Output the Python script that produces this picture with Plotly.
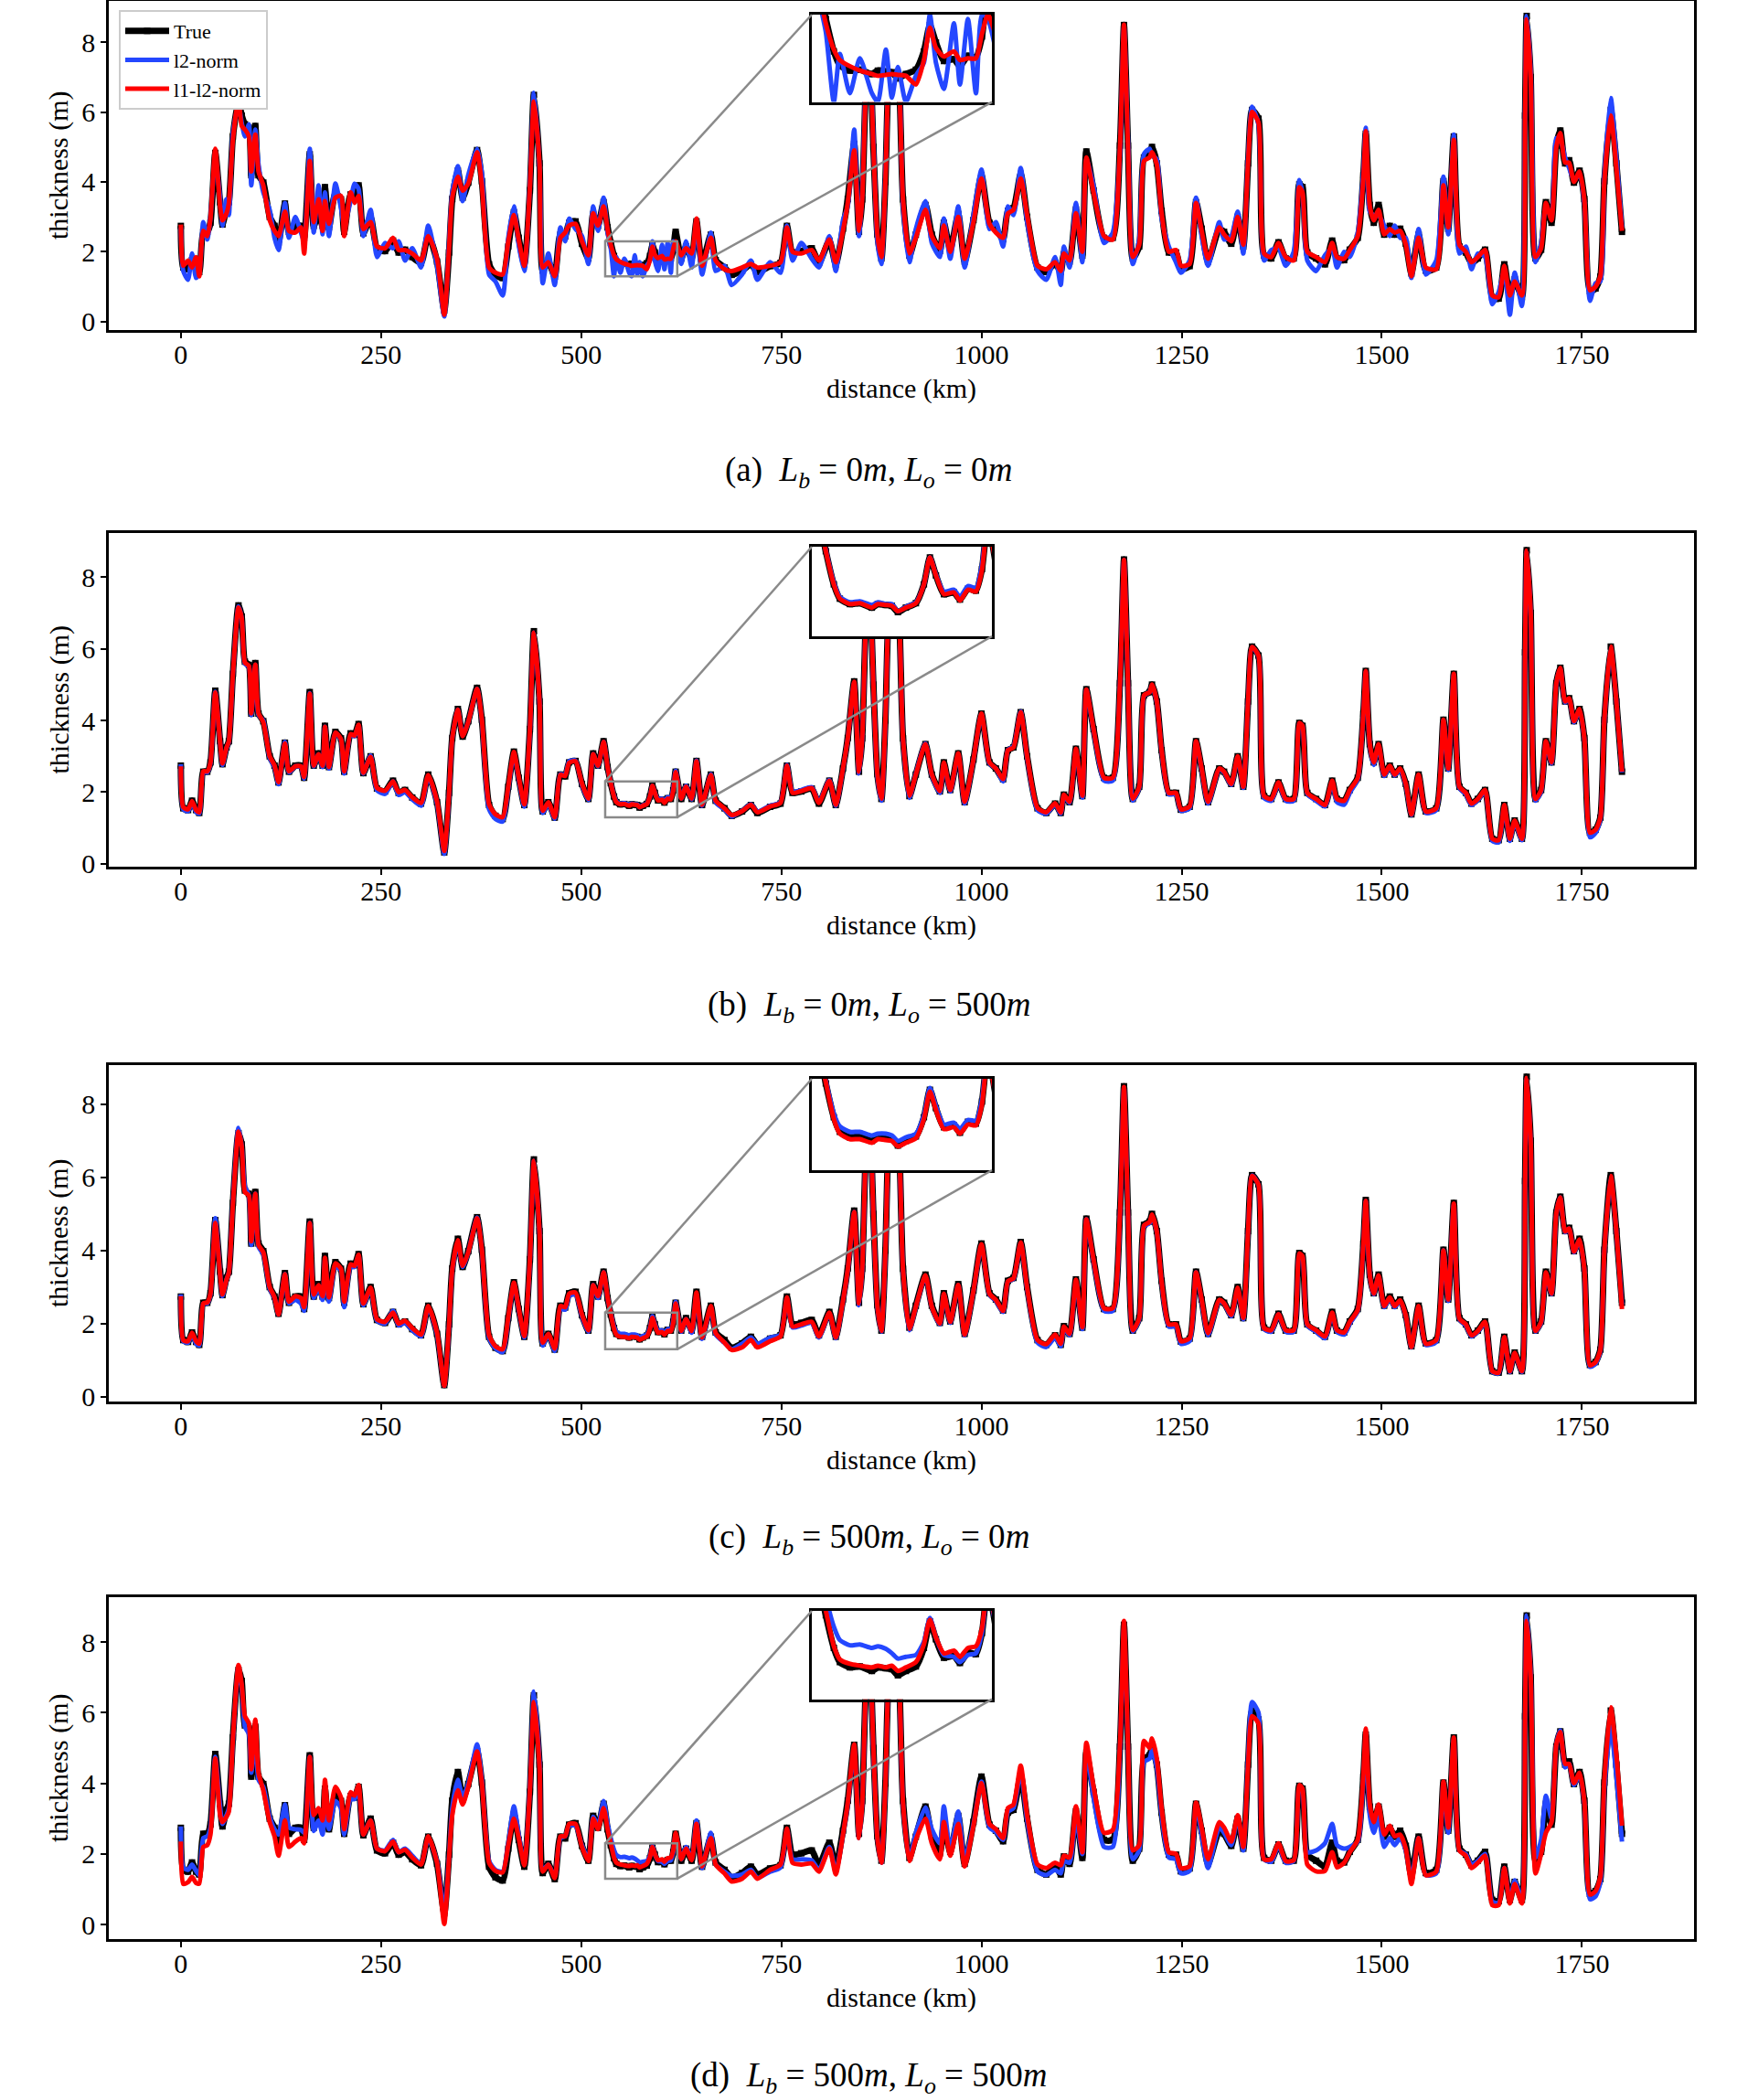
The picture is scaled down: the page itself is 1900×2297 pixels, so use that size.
import plotly.graph_objects as go

W, H = 1900, 2297

# distance along the track (km), shared by every series
dist_km = [
    0, 3, 9, 14, 19, 23, 28, 33, 37, 43,
    49, 52, 57, 60, 65, 72, 76, 80, 85, 88,
    93, 97, 103, 111, 117, 122, 130, 135, 143, 150,
    154, 161, 166, 172, 177, 180, 185, 193, 200, 204,
    212, 217, 222, 228, 237, 245, 255, 265, 272, 280,
    289, 300, 309, 320, 329, 335, 339, 346, 352, 359,
    370, 376, 385, 393, 402, 409, 416, 422, 429, 436,
    441, 448, 452, 459, 467, 474, 480, 485, 493, 501,
    509, 515, 521, 528, 533, 537, 541, 544, 549, 554,
    560, 563, 567, 570, 573, 577, 582, 586, 589, 592,
    596, 601, 604, 608, 612, 615, 618, 625, 631, 638,
    644, 651, 662, 668, 679, 688, 701, 712, 720, 736,
    749, 757, 764, 775, 788, 797, 810, 818, 827, 833,
    841, 847, 851, 856, 860, 865, 870, 875, 880, 884,
    891, 897, 902, 910, 918, 930, 938, 948, 953, 961,
    971, 979, 990, 1000, 1010, 1018, 1027, 1033, 1040, 1049,
    1057, 1070, 1081, 1092, 1099, 1103, 1110, 1118, 1126, 1131,
    1140, 1153, 1164, 1173, 1178, 1183, 1189, 1197, 1203, 1210,
    1213, 1219, 1225, 1234, 1243, 1249, 1260, 1268, 1275, 1283,
    1297, 1303, 1312, 1320, 1327, 1333, 1338, 1346, 1353, 1362,
    1371, 1380, 1390, 1397, 1401, 1407, 1418, 1429, 1438, 1444,
    1453, 1460, 1470, 1477, 1480, 1485, 1490, 1496, 1503, 1510,
    1516, 1523, 1530, 1537, 1546, 1555, 1568, 1577, 1583, 1590,
    1597, 1605, 1612, 1620, 1629, 1638, 1646, 1653, 1660, 1666,
    1675, 1679, 1681, 1686, 1692, 1699, 1705, 1712, 1718, 1723,
    1729, 1734, 1740, 1747, 1753, 1760, 1767, 1773, 1778, 1786,
    1793, 1800,
]

# true thickness (m), panels b, c, d
true_thk = [
    2.74, 1.55, 1.50, 1.76, 1.50, 1.42, 2.57, 2.57, 2.83, 4.83,
    3.42, 2.78, 3.25, 3.42, 5.30, 7.21, 6.90, 5.64, 5.55, 4.19,
    5.60, 4.19, 3.98, 3.00, 2.74, 2.27, 3.38, 2.57, 2.74, 2.74,
    2.40, 4.79, 2.74, 3.08, 2.74, 3.85, 2.70, 3.68, 3.50, 2.57,
    3.64, 3.60, 3.90, 2.53, 3.00, 2.10, 2.02, 2.32, 1.98, 2.06,
    1.85, 1.68, 2.49, 1.72, 0.32, 1.98, 3.51, 4.32, 3.55, 3.98,
    4.91, 4.02, 1.64, 1.34, 1.25, 2.15, 3.13, 2.40, 1.64, 3.76,
    6.49, 4.53, 1.46, 1.72, 1.29, 2.49, 2.44, 2.83, 2.87, 2.23,
    1.81, 3.08, 2.74, 3.42, 2.70, 2.25, 1.88, 1.72, 1.66, 1.67,
    1.62, 1.66, 1.65, 1.64, 1.57, 1.62, 1.67, 1.88, 2.18, 1.98,
    1.77, 1.79, 1.71, 1.83, 1.81, 2.05, 2.57, 1.81, 2.15, 1.81,
    2.87, 1.64, 2.49, 1.76, 1.55, 1.34, 1.46, 1.64, 1.42, 1.59,
    1.68, 2.74, 1.98, 2.02, 2.10, 1.68, 2.32, 1.64, 2.66, 3.51,
    5.09, 2.57, 3.50, 7.00, 7.90, 5.00, 2.50, 1.81, 4.00, 7.00,
    8.30, 7.00, 3.50, 1.89, 2.49, 3.34, 2.49, 2.02, 2.83, 2.06,
    3.08, 1.72, 2.91, 4.19, 2.83, 2.66, 2.36, 3.17, 3.25, 4.23,
    3.00, 1.55, 1.42, 1.68, 1.42, 1.93, 1.72, 3.21, 1.89, 4.87,
    3.76, 2.40, 2.40, 5.04, 8.49, 5.04, 1.81, 2.15, 4.70, 4.79,
    5.00, 4.53, 3.17, 1.98, 1.98, 1.51, 1.59, 3.42, 2.66, 1.72,
    2.66, 2.57, 2.23, 3.00, 2.15, 4.53, 6.06, 5.81, 1.89, 1.81,
    2.27, 1.81, 1.81, 3.93, 3.85, 1.98, 1.81, 1.64, 2.32, 1.81,
    1.76, 2.06, 2.40, 4.19, 5.38, 3.34, 2.83, 3.34, 2.49, 2.74,
    2.49, 2.66, 2.23, 1.38, 2.49, 1.46, 1.55, 4.02, 2.66, 5.30,
    2.15, 1.98, 1.68, 1.81, 2.06, 0.70, 0.66, 1.64, 0.70, 1.21,
    0.70, 5.90, 8.75, 7.00, 1.81, 2.06, 3.42, 2.83, 5.04, 5.47,
    4.53, 4.62, 3.98, 4.32, 3.51, 0.87, 0.95, 1.29, 4.02, 6.06,
    4.53, 2.57,
]

# true thickness as drawn in panel a
true_thk_a = [
    2.74, 1.55, 1.50, 1.76, 1.50, 1.42, 2.57, 2.57, 2.83, 4.83,
    3.42, 2.78, 3.25, 3.42, 5.30, 6.30, 5.90, 5.65, 5.55, 4.19,
    5.60, 4.19, 3.98, 3.00, 2.74, 2.27, 3.38, 2.57, 2.74, 2.74,
    2.40, 4.79, 2.74, 3.08, 2.74, 3.85, 2.70, 3.68, 3.50, 2.57,
    3.64, 3.60, 3.90, 2.53, 3.00, 2.10, 2.02, 2.32, 1.98, 2.06,
    1.85, 1.68, 2.49, 1.72, 0.32, 1.98, 3.51, 4.32, 3.55, 3.98,
    4.91, 4.02, 1.64, 1.34, 1.25, 2.15, 3.13, 2.40, 1.64, 3.76,
    6.49, 4.53, 1.46, 1.72, 1.29, 2.49, 2.44, 2.83, 2.87, 2.23,
    1.81, 3.08, 2.74, 3.42, 2.70, 2.25, 1.88, 1.72, 1.66, 1.67,
    1.62, 1.66, 1.65, 1.64, 1.57, 1.62, 1.67, 1.88, 2.18, 1.98,
    1.77, 1.79, 1.71, 1.83, 1.81, 2.05, 2.57, 1.81, 2.15, 1.81,
    2.87, 1.64, 2.49, 1.76, 1.55, 1.34, 1.46, 1.64, 1.42, 1.59,
    1.68, 2.74, 1.98, 2.02, 2.10, 1.68, 2.32, 1.64, 2.66, 3.51,
    5.09, 2.57, 3.50, 7.00, 7.90, 5.00, 2.50, 1.81, 4.00, 7.00,
    8.30, 7.00, 3.50, 1.89, 2.49, 3.34, 2.49, 2.02, 2.83, 2.06,
    3.08, 1.72, 2.91, 4.19, 2.83, 2.66, 2.36, 3.17, 3.25, 4.23,
    3.00, 1.55, 1.42, 1.68, 1.42, 1.93, 1.72, 3.21, 1.89, 4.87,
    3.76, 2.40, 2.40, 5.04, 8.49, 5.04, 1.81, 2.15, 4.70, 4.79,
    5.00, 4.53, 3.17, 1.98, 1.98, 1.51, 1.59, 3.42, 2.66, 1.72,
    2.66, 2.57, 2.23, 3.00, 2.15, 4.53, 6.06, 5.81, 1.89, 1.81,
    2.27, 1.81, 1.81, 3.93, 3.85, 1.98, 1.81, 1.64, 2.32, 1.81,
    1.76, 2.06, 2.40, 4.19, 5.38, 3.34, 2.83, 3.34, 2.49, 2.74,
    2.49, 2.66, 2.23, 1.38, 2.49, 1.46, 1.55, 4.02, 2.66, 5.30,
    2.15, 1.98, 1.68, 1.81, 2.06, 0.70, 0.66, 1.64, 0.70, 1.21,
    0.70, 5.90, 8.75, 7.00, 1.81, 2.06, 3.42, 2.83, 5.04, 5.47,
    4.53, 4.62, 3.98, 4.32, 3.51, 0.87, 0.95, 1.29, 4.02, 6.06,
    4.53, 2.57,
]

# (a) Lb = 0m, Lo = 0m
l2_a = [
    2.70, 1.45, 1.20, 1.95, 1.25, 1.40, 2.85, 2.35, 3.00, 4.70,
    3.55, 2.75, 3.50, 3.05, 5.40, 6.20, 5.70, 5.30, 5.65, 3.90,
    5.50, 4.50, 3.70, 3.20, 2.40, 2.05, 3.40, 2.40, 3.00, 2.55,
    2.30, 4.95, 2.55, 3.90, 2.50, 3.70, 2.45, 3.95, 3.25, 2.75,
    3.45, 3.95, 3.80, 2.45, 3.20, 1.85, 2.25, 2.10, 2.30, 1.75,
    2.10, 1.55, 2.75, 1.60, 0.15, 2.25, 3.70, 4.45, 3.45, 4.20,
    4.95, 4.25, 1.35, 1.15, 0.75, 2.40, 3.30, 2.20, 1.45, 3.95,
    6.55, 4.40, 1.10, 1.95, 1.05, 2.70, 2.30, 2.95, 2.65, 2.45,
    1.65, 3.30, 2.60, 3.55, 2.55, 2.10, 1.30, 1.85, 1.40, 1.80,
    1.40, 1.30, 1.90, 1.35, 1.70, 1.30, 1.60, 1.75, 2.30, 1.75,
    1.45, 2.20, 1.50, 2.25, 1.40, 2.30, 2.25, 1.65, 2.30, 1.55,
    2.90, 1.35, 2.55, 1.45, 1.60, 1.05, 1.35, 1.75, 1.20, 1.70,
    1.40, 2.75, 1.75, 2.25, 1.80, 1.55, 2.45, 1.45, 2.90, 3.30,
    5.50, 2.45, 3.70, 7.10, 7.80, 5.20, 2.30, 1.65, 4.20, 6.90,
    8.20, 7.20, 3.30, 1.70, 2.65, 3.45, 2.25, 1.85, 2.95, 1.80,
    3.30, 1.55, 3.05, 4.35, 2.65, 2.85, 2.15, 3.30, 3.05, 4.40,
    2.85, 1.45, 1.20, 1.85, 1.05, 2.15, 1.55, 3.40, 1.70, 4.65,
    3.90, 2.25, 2.55, 4.85, 8.45, 5.20, 1.65, 2.35, 4.80, 4.95,
    4.75, 4.65, 2.95, 2.15, 1.70, 1.40, 1.75, 3.55, 2.45, 1.60,
    2.85, 2.35, 2.45, 3.15, 1.95, 4.70, 6.15, 5.65, 1.75, 2.05,
    2.10, 1.60, 2.00, 4.05, 3.65, 1.75, 1.45, 1.90, 2.10, 1.55,
    2.00, 1.85, 2.55, 4.30, 5.55, 3.15, 3.05, 3.05, 2.75, 2.45,
    2.75, 2.40, 2.40, 1.25, 2.65, 1.35, 1.75, 4.15, 2.50, 5.35,
    1.95, 2.15, 1.50, 1.95, 1.85, 0.50, 0.85, 1.45, 0.20, 1.40,
    0.45, 6.10, 8.75, 7.20, 1.70, 2.25, 3.30, 3.00, 5.25, 5.20,
    4.70, 4.40, 4.05, 4.20, 3.40, 0.60, 1.10, 1.15, 4.20, 6.40,
    4.70, 2.70,
]
l1l2_a = [
    2.78, 1.60, 1.75, 1.55, 1.85, 1.30, 2.60, 2.45, 2.95, 4.95,
    3.30, 2.90, 3.10, 3.40, 5.20, 6.40, 5.60, 5.50, 5.30, 4.30,
    5.35, 4.30, 3.90, 2.90, 2.60, 2.45, 3.15, 2.60, 2.55, 2.70,
    1.95, 4.60, 2.85, 3.50, 2.60, 3.45, 2.80, 3.55, 3.60, 2.45,
    3.70, 3.40, 3.60, 2.65, 2.85, 2.15, 2.10, 2.40, 2.05, 2.05,
    1.95, 1.75, 2.45, 1.80, 0.20, 2.10, 3.55, 4.15, 3.75, 3.95,
    4.85, 3.90, 1.55, 1.40, 1.35, 2.30, 3.05, 2.35, 1.60, 3.85,
    6.30, 4.50, 1.55, 1.70, 1.30, 2.40, 2.55, 2.75, 2.80, 2.30,
    1.90, 3.10, 2.75, 3.30, 2.65, 2.20, 1.90, 1.78, 1.71, 1.66,
    1.62, 1.60, 1.61, 1.62, 1.61, 1.60, 1.50, 1.78, 2.15, 1.92,
    1.82, 1.88, 1.78, 1.80, 1.80, 2.08, 2.30, 1.90, 2.10, 1.95,
    2.95, 1.60, 2.40, 1.75, 1.50, 1.45, 1.55, 1.65, 1.55, 1.60,
    1.70, 2.70, 2.00, 1.95, 2.05, 1.75, 2.35, 1.70, 2.60, 3.40,
    4.90, 2.60, 3.50, 7.00, 7.90, 5.00, 2.50, 1.85, 4.00, 7.00,
    8.30, 7.00, 3.50, 1.95, 2.40, 3.20, 2.45, 2.10, 2.75, 2.00,
    3.00, 1.80, 2.85, 4.10, 2.80, 2.55, 2.40, 3.10, 3.20, 4.10,
    3.05, 1.60, 1.50, 1.70, 1.45, 1.95, 1.75, 3.10, 2.00, 4.70,
    3.70, 2.45, 2.35, 5.00, 8.50, 5.00, 1.85, 2.20, 4.60, 4.70,
    4.85, 4.50, 3.10, 2.00, 2.05, 1.60, 1.65, 3.40, 2.60, 1.80,
    2.70, 2.50, 2.30, 3.00, 2.20, 4.55, 6.00, 5.70, 1.95, 1.85,
    2.25, 1.85, 1.75, 3.85, 3.70, 2.00, 1.85, 1.70, 2.25, 1.85,
    1.80, 2.05, 2.45, 4.10, 5.45, 3.30, 2.90, 3.20, 2.50, 2.65,
    2.55, 2.60, 2.20, 1.30, 2.40, 1.55, 1.50, 3.90, 2.70, 5.20,
    2.20, 2.00, 1.70, 1.85, 2.05, 0.75, 0.70, 1.60, 0.75, 1.15,
    0.75, 5.90, 8.65, 7.00, 1.85, 2.10, 3.40, 2.90, 5.00, 5.40,
    4.55, 4.55, 4.00, 4.30, 3.50, 0.90, 1.00, 1.30, 4.00, 5.90,
    4.40, 2.60,
]

# (b) Lb = 0m, Lo = 500m
l2_b = [
    2.78, 1.52, 1.47, 1.72, 1.45, 1.40, 2.55, 2.55, 2.80, 4.80,
    3.40, 2.76, 3.22, 3.40, 5.28, 7.18, 6.85, 5.58, 5.50, 4.15,
    5.55, 4.15, 4.00, 2.95, 2.70, 2.22, 3.40, 2.55, 2.72, 2.70,
    2.38, 4.76, 2.72, 3.05, 2.70, 3.82, 2.66, 3.65, 3.46, 2.52,
    3.60, 3.56, 3.86, 2.52, 3.02, 2.05, 1.95, 2.30, 1.92, 2.00,
    1.80, 1.62, 2.45, 1.68, 0.28, 1.95, 3.50, 4.30, 3.58, 3.96,
    4.88, 3.98, 1.52, 1.25, 1.18, 2.10, 3.08, 2.36, 1.60, 3.72,
    6.45, 4.50, 1.42, 1.68, 1.26, 2.50, 2.48, 2.86, 2.88, 2.20,
    1.78, 3.06, 2.72, 3.40, 2.70, 2.26, 1.90, 1.74, 1.68, 1.69,
    1.65, 1.68, 1.66, 1.66, 1.58, 1.63, 1.68, 1.88, 2.18, 1.99,
    1.80, 1.82, 1.74, 1.86, 1.84, 2.10, 2.60, 1.82, 2.18, 1.80,
    2.88, 1.62, 2.50, 1.72, 1.52, 1.32, 1.48, 1.66, 1.46, 1.62,
    1.72, 2.76, 2.02, 2.06, 2.14, 1.72, 2.34, 1.62, 2.64, 3.50,
    5.06, 2.52, 3.48, 6.98, 7.88, 4.98, 2.44, 1.76, 3.96, 6.98,
    8.28, 6.98, 3.46, 1.84, 2.52, 3.36, 2.46, 1.98, 2.80, 2.02,
    3.05, 1.68, 2.90, 4.18, 2.80, 2.66, 2.30, 3.18, 3.28, 4.25,
    2.96, 1.50, 1.40, 1.66, 1.40, 1.90, 1.70, 3.18, 1.85, 4.85,
    3.72, 2.32, 2.32, 5.02, 8.47, 5.02, 1.76, 2.12, 4.68, 4.80,
    4.98, 4.50, 3.14, 1.94, 1.94, 1.48, 1.55, 3.40, 2.62, 1.68,
    2.64, 2.55, 2.20, 2.98, 2.12, 4.52, 6.04, 5.80, 1.84, 1.76,
    2.25, 1.76, 1.76, 3.92, 3.84, 1.95, 1.76, 1.60, 2.28, 1.72,
    1.65, 1.98, 2.36, 4.18, 5.36, 3.30, 2.76, 3.30, 2.45, 2.72,
    2.46, 2.62, 2.20, 1.36, 2.45, 1.42, 1.50, 4.00, 2.62, 5.28,
    2.12, 1.94, 1.64, 1.78, 2.02, 0.64, 0.60, 1.60, 0.64, 1.16,
    0.66, 5.88, 8.72, 6.98, 1.76, 2.02, 3.40, 2.80, 5.02, 5.45,
    4.50, 4.60, 3.95, 4.30, 3.48, 0.74, 0.86, 1.24, 4.00, 6.04,
    4.52, 2.55,
]
l1l2_b = [
    2.72, 1.58, 1.52, 1.75, 1.50, 1.44, 2.58, 2.58, 2.82, 4.78,
    3.40, 2.80, 3.24, 3.42, 5.28, 7.15, 6.86, 5.62, 5.52, 4.20,
    5.56, 4.20, 3.95, 3.00, 2.75, 2.28, 3.36, 2.58, 2.72, 2.72,
    2.42, 4.75, 2.74, 3.06, 2.74, 3.82, 2.70, 3.66, 3.48, 2.58,
    3.62, 3.58, 3.88, 2.54, 2.98, 2.12, 2.04, 2.30, 2.00, 2.06,
    1.86, 1.70, 2.48, 1.74, 0.36, 1.98, 3.50, 4.30, 3.56, 3.96,
    4.88, 4.02, 1.66, 1.38, 1.30, 2.16, 3.12, 2.42, 1.66, 3.74,
    6.45, 4.52, 1.48, 1.72, 1.30, 2.48, 2.45, 2.82, 2.86, 2.24,
    1.82, 3.06, 2.74, 3.40, 2.70, 2.25, 1.88, 1.72, 1.66, 1.67,
    1.62, 1.66, 1.65, 1.64, 1.58, 1.62, 1.67, 1.88, 2.18, 1.98,
    1.77, 1.79, 1.70, 1.82, 1.80, 2.04, 2.56, 1.82, 2.15, 1.82,
    2.86, 1.65, 2.48, 1.76, 1.55, 1.36, 1.47, 1.65, 1.44, 1.60,
    1.70, 2.74, 1.98, 2.03, 2.11, 1.70, 2.32, 1.65, 2.66, 3.50,
    5.08, 2.57, 3.50, 7.00, 7.90, 5.00, 2.50, 1.82, 4.00, 7.00,
    8.30, 7.00, 3.50, 1.90, 2.49, 3.34, 2.49, 2.03, 2.83, 2.06,
    3.08, 1.73, 2.91, 4.19, 2.83, 2.66, 2.37, 3.17, 3.25, 4.23,
    3.00, 1.56, 1.44, 1.69, 1.43, 1.93, 1.73, 3.21, 1.90, 4.86,
    3.76, 2.40, 2.40, 5.04, 8.48, 5.04, 1.82, 2.15, 4.70, 4.79,
    5.00, 4.53, 3.17, 1.98, 1.98, 1.52, 1.60, 3.42, 2.66, 1.73,
    2.66, 2.57, 2.23, 3.00, 2.15, 4.53, 6.05, 5.81, 1.89, 1.81,
    2.27, 1.81, 1.81, 3.93, 3.85, 1.98, 1.81, 1.64, 2.32, 1.81,
    1.76, 2.06, 2.40, 4.19, 5.38, 3.34, 2.83, 3.34, 2.49, 2.74,
    2.49, 2.66, 2.23, 1.38, 2.49, 1.46, 1.55, 4.02, 2.66, 5.30,
    2.15, 1.98, 1.68, 1.81, 2.06, 0.70, 0.66, 1.64, 0.70, 1.21,
    0.70, 5.90, 8.74, 7.00, 1.81, 2.06, 3.42, 2.83, 5.04, 5.47,
    4.53, 4.62, 3.98, 4.32, 3.51, 0.87, 0.95, 1.29, 4.02, 6.06,
    4.53, 2.57,
]

# (c) Lb = 500m, Lo = 0m
l2_c = [
    2.80, 1.52, 1.48, 1.72, 1.45, 1.40, 2.55, 2.55, 2.80, 4.88,
    3.38, 2.75, 3.20, 3.40, 5.35, 7.35, 6.85, 5.75, 5.50, 4.15,
    5.55, 4.10, 3.90, 2.95, 2.70, 2.25, 3.35, 2.55, 2.65, 2.55,
    2.35, 4.75, 2.70, 3.00, 2.65, 3.75, 2.60, 3.55, 3.45, 2.45,
    3.55, 3.55, 3.85, 2.50, 2.95, 2.08, 2.00, 2.35, 1.95, 2.02,
    1.82, 1.65, 2.45, 1.70, 0.30, 1.95, 3.45, 4.20, 3.55, 3.95,
    4.90, 4.00, 1.60, 1.32, 1.22, 2.12, 3.10, 2.38, 1.62, 3.72,
    6.45, 4.50, 1.40, 1.70, 1.25, 2.40, 2.38, 2.75, 2.80, 2.20,
    1.78, 3.05, 2.70, 3.40, 2.70, 2.28, 1.92, 1.78, 1.72, 1.72,
    1.68, 1.70, 1.70, 1.68, 1.62, 1.66, 1.70, 1.90, 2.20, 2.00,
    1.80, 1.82, 1.75, 1.85, 1.84, 2.08, 2.60, 1.78, 2.12, 1.75,
    2.80, 1.58, 2.45, 1.70, 1.48, 1.30, 1.45, 1.62, 1.45, 1.62,
    1.70, 2.70, 1.90, 1.95, 2.02, 1.62, 2.28, 1.60, 2.60, 3.45,
    5.05, 2.50, 3.45, 6.95, 7.90, 4.95, 2.45, 1.78, 3.95, 6.95,
    8.30, 6.95, 3.45, 1.82, 2.45, 3.30, 2.45, 1.98, 2.80, 2.02,
    3.05, 1.68, 2.88, 4.15, 2.80, 2.62, 2.32, 3.15, 3.22, 4.20,
    2.95, 1.48, 1.36, 1.62, 1.38, 1.88, 1.68, 3.15, 1.85, 4.85,
    3.70, 2.35, 2.35, 5.00, 8.45, 5.00, 1.78, 2.12, 4.65, 4.75,
    4.95, 4.50, 3.12, 1.92, 1.92, 1.45, 1.52, 3.40, 2.60, 1.68,
    2.62, 2.55, 2.20, 2.95, 2.12, 4.50, 6.05, 5.80, 1.85, 1.78,
    2.25, 1.78, 1.78, 3.90, 3.82, 1.95, 1.78, 1.60, 2.28, 1.78,
    1.70, 2.00, 2.35, 4.15, 5.35, 3.30, 2.80, 3.30, 2.45, 2.70,
    2.45, 2.62, 2.20, 1.35, 2.45, 1.42, 1.50, 4.00, 2.62, 5.25,
    2.12, 1.95, 1.65, 1.78, 2.02, 0.68, 0.64, 1.62, 0.68, 1.18,
    0.68, 5.85, 8.70, 6.95, 1.78, 2.02, 3.38, 2.80, 5.00, 5.45,
    4.50, 4.60, 3.95, 4.28, 3.48, 0.82, 0.90, 1.25, 3.98, 6.02,
    4.50, 2.52,
]
l1l2_c = [
    2.75, 1.55, 1.52, 1.75, 1.52, 1.45, 2.55, 2.58, 2.82, 4.75,
    3.35, 2.80, 3.20, 3.40, 5.25, 7.25, 6.85, 5.60, 5.50, 4.25,
    5.55, 4.15, 3.95, 3.00, 2.72, 2.25, 3.35, 2.60, 2.75, 2.70,
    2.45, 4.75, 2.80, 3.05, 2.75, 3.80, 2.72, 3.65, 3.50, 2.60,
    3.62, 3.58, 3.88, 2.55, 2.98, 2.12, 2.05, 2.30, 2.00, 2.08,
    1.88, 1.70, 2.48, 1.75, 0.30, 1.98, 3.48, 4.28, 3.58, 3.95,
    4.88, 4.02, 1.68, 1.38, 1.30, 2.18, 3.12, 2.42, 1.66, 3.75,
    6.45, 4.50, 1.48, 1.72, 1.32, 2.48, 2.45, 2.82, 2.85, 2.25,
    1.82, 3.05, 2.75, 3.40, 2.72, 2.26, 1.86, 1.70, 1.64, 1.64,
    1.60, 1.64, 1.63, 1.62, 1.56, 1.60, 1.65, 1.86, 2.16, 1.96,
    1.75, 1.77, 1.70, 1.80, 1.79, 2.02, 2.55, 1.80, 2.12, 1.80,
    2.85, 1.62, 2.48, 1.74, 1.48, 1.28, 1.35, 1.55, 1.35, 1.52,
    1.65, 2.72, 1.92, 1.98, 2.05, 1.65, 2.30, 1.62, 2.62, 3.48,
    5.05, 2.55, 3.48, 7.00, 7.90, 5.00, 2.48, 1.80, 3.98, 7.00,
    8.30, 7.00, 3.48, 1.86, 2.46, 3.32, 2.46, 2.00, 2.82, 2.05,
    3.06, 1.70, 2.90, 4.17, 2.82, 2.65, 2.35, 3.16, 3.24, 4.22,
    2.98, 1.55, 1.44, 1.70, 1.45, 1.92, 1.72, 3.20, 1.90, 4.85,
    3.75, 2.42, 2.42, 5.02, 8.47, 5.02, 1.82, 2.15, 4.68, 4.78,
    4.98, 4.52, 3.15, 1.98, 1.98, 1.52, 1.60, 3.40, 2.66, 1.74,
    2.65, 2.56, 2.24, 2.98, 2.16, 4.52, 6.04, 5.80, 1.88, 1.82,
    2.26, 1.82, 1.82, 3.92, 3.84, 1.98, 1.82, 1.65, 2.30, 1.82,
    1.76, 2.05, 2.38, 4.18, 5.36, 3.32, 2.82, 3.32, 2.48, 2.72,
    2.48, 2.64, 2.22, 1.36, 2.48, 1.45, 1.55, 4.00, 2.66, 5.28,
    2.14, 1.98, 1.68, 1.80, 2.05, 0.70, 0.66, 1.63, 0.70, 1.20,
    0.70, 5.88, 8.72, 6.98, 1.80, 2.05, 3.40, 2.82, 5.02, 5.45,
    4.52, 4.60, 3.97, 4.30, 3.50, 0.86, 0.95, 1.28, 4.00, 6.04,
    4.52, 2.40,
]

# (d) Lb = 500m, Lo = 500m
l2_d = [
    2.78, 1.62, 1.55, 1.70, 1.52, 1.40, 2.45, 2.50, 2.75, 4.75,
    3.35, 2.85, 3.10, 3.30, 5.20, 7.30, 6.70, 5.60, 5.40, 4.30,
    5.40, 4.10, 3.90, 3.05, 2.70, 2.55, 3.40, 2.75, 2.70, 2.68,
    2.60, 4.75, 2.65, 2.95, 2.55, 3.30, 2.70, 3.50, 3.30, 2.55,
    3.55, 3.55, 3.80, 2.55, 2.95, 2.15, 2.10, 2.40, 2.05, 2.15,
    1.95, 1.72, 2.45, 1.78, 0.35, 1.95, 3.30, 4.10, 3.60, 4.00,
    5.10, 4.10, 1.80, 1.55, 1.50, 2.30, 3.35, 2.55, 1.70, 3.90,
    6.60, 4.60, 1.55, 1.70, 1.35, 2.45, 2.50, 2.80, 2.80, 2.25,
    1.85, 3.05, 2.80, 3.50, 2.85, 2.45, 2.12, 1.97, 1.91, 1.92,
    1.88, 1.90, 1.87, 1.82, 1.76, 1.78, 1.80, 1.95, 2.22, 2.00,
    1.80, 1.78, 1.72, 1.80, 1.82, 2.05, 2.55, 1.85, 2.20, 1.85,
    2.95, 1.60, 2.60, 1.70, 1.50, 1.38, 1.42, 1.55, 1.32, 1.50,
    1.62, 2.70, 1.85, 1.85, 1.82, 1.55, 2.20, 1.50, 2.55, 3.40,
    5.00, 2.45, 3.40, 6.90, 7.80, 4.90, 2.45, 1.75, 3.90, 6.90,
    8.20, 6.90, 3.40, 1.85, 2.60, 3.32, 2.70, 2.30, 3.35, 2.10,
    3.20, 1.85, 2.85, 4.05, 2.75, 2.62, 2.40, 3.20, 3.30, 4.35,
    2.95, 1.50, 1.40, 1.55, 1.45, 1.80, 1.75, 3.00, 2.00, 4.95,
    3.60, 2.20, 2.20, 5.00, 8.40, 5.00, 1.85, 2.10, 4.60, 4.70,
    4.95, 4.45, 3.10, 1.90, 1.85, 1.45, 1.52, 3.40, 2.55, 1.60,
    2.75, 2.60, 2.25, 3.05, 2.10, 4.70, 6.30, 6.00, 1.85, 1.78,
    2.25, 1.75, 1.80, 3.90, 3.80, 2.05, 2.10, 2.30, 2.85, 2.25,
    2.15, 2.20, 2.35, 4.10, 5.30, 3.10, 2.60, 3.05, 2.20, 2.45,
    2.25, 2.45, 2.10, 1.30, 2.45, 1.40, 1.45, 4.00, 2.60, 5.25,
    2.10, 2.00, 1.70, 1.80, 2.00, 0.65, 0.62, 1.60, 0.65, 1.25,
    0.68, 6.00, 8.75, 7.10, 1.90, 2.40, 3.65, 3.00, 5.10, 5.50,
    4.45, 4.55, 3.95, 4.25, 3.45, 0.72, 0.80, 1.20, 3.85, 5.60,
    4.20, 2.35,
]
l1l2_d = [
    2.35, 1.15, 1.20, 1.35, 1.18, 1.16, 2.20, 2.25, 2.55, 4.70,
    3.10, 2.90, 3.05, 3.20, 5.25, 7.35, 6.80, 5.90, 5.70, 4.40,
    5.80, 4.30, 3.80, 2.90, 2.50, 1.95, 2.95, 2.20, 2.35, 2.45,
    2.30, 4.75, 3.10, 3.30, 2.95, 4.10, 2.95, 3.90, 3.60, 2.70,
    3.75, 3.65, 3.95, 2.55, 2.95, 2.15, 2.08, 2.35, 2.05, 2.12,
    1.90, 1.70, 2.50, 1.75, 0.02, 1.90, 3.10, 3.80, 3.40, 3.90,
    4.90, 4.00, 1.75, 1.52, 1.48, 2.25, 3.00, 2.45, 1.68, 3.80,
    6.30, 4.45, 1.50, 1.70, 1.32, 2.50, 2.50, 2.85, 2.85, 2.20,
    1.80, 3.00, 2.70, 3.30, 2.70, 2.30, 1.90, 1.75, 1.70, 1.68,
    1.66, 1.68, 1.66, 1.68, 1.62, 1.66, 1.72, 1.92, 2.20, 2.00,
    1.82, 1.85, 1.78, 1.88, 1.90, 2.10, 2.60, 1.85, 2.15, 1.82,
    2.85, 1.65, 2.45, 1.70, 1.45, 1.22, 1.30, 1.50, 1.30, 1.55,
    1.70, 2.72, 1.75, 1.70, 1.73, 1.50, 2.15, 1.42, 2.55, 3.45,
    5.10, 2.45, 3.40, 7.00, 7.90, 5.00, 2.45, 1.75, 3.95, 7.00,
    8.30, 7.00, 3.45, 1.80, 2.40, 3.00, 2.30, 1.85, 2.90, 1.95,
    2.85, 1.65, 2.80, 4.00, 2.85, 2.70, 2.45, 3.30, 3.40, 4.50,
    3.10, 1.70, 1.60, 1.75, 1.68, 1.95, 1.90, 3.35, 2.05, 5.15,
    3.90, 2.60, 2.68, 5.10, 8.60, 5.10, 2.10, 2.25, 5.20, 5.00,
    5.27, 4.70, 3.30, 2.05, 2.00, 1.60, 1.65, 3.45, 2.75, 1.85,
    2.90, 2.75, 2.35, 3.10, 2.20, 4.50, 5.90, 5.70, 1.85, 1.85,
    2.30, 1.80, 1.82, 3.95, 3.85, 1.70, 1.51, 1.52, 2.05, 1.62,
    1.75, 2.05, 2.40, 4.25, 5.55, 3.40, 2.90, 3.40, 2.55, 2.80,
    2.50, 2.55, 2.15, 1.15, 2.45, 1.40, 1.50, 4.05, 2.75, 5.30,
    2.10, 1.95, 1.60, 1.75, 1.95, 0.55, 0.55, 1.60, 0.60, 1.15,
    0.60, 5.90, 8.60, 7.00, 1.45, 2.00, 2.60, 2.90, 5.10, 5.45,
    4.55, 4.55, 4.00, 4.30, 3.50, 0.85, 0.95, 1.35, 4.10, 6.15,
    4.80, 2.80,
]

x_ticks = [0, 250, 500, 750, 1000, 1250, 1500, 1750]
y_ticks = [0, 2, 4, 6, 8]
zoom_x = [530, 620]
zoom_y = [1.3, 2.3]
zoom_factor = 2.5

panels = [
    dict(true=true_thk_a, l2=l2_a, l1l2=l1l2_a, top=1, bottom=361, yr=[-0.24, 9.18], cap_y=516,
         cap="(a)  <i>L<sub>b</sub></i> = 0<i>m</i>, <i>L<sub>o</sub></i> = 0<i>m</i>"),
    dict(true=true_thk, l2=l2_b, l1l2=l1l2_b, top=583, bottom=948, yr=[-0.08, 9.23], cap_y=1101,
         cap="(b)  <i>L<sub>b</sub></i> = 0<i>m</i>, <i>L<sub>o</sub></i> = 500<i>m</i>"),
    dict(true=true_thk, l2=l2_c, l1l2=l1l2_c, top=1165, bottom=1533, yr=[-0.13, 9.07], cap_y=1684,
         cap="(c)  <i>L<sub>b</sub></i> = 500<i>m</i>, <i>L<sub>o</sub></i> = 0<i>m</i>"),
    dict(true=true_thk, l2=l2_d, l1l2=l1l2_d, top=1747, bottom=2121, yr=[-0.41, 9.27], cap_y=2272,
         cap="(d)  <i>L<sub>b</sub></i> = 500<i>m</i>, <i>L<sub>o</sub></i> = 500<i>m</i>"),
]

AX_L, AX_R = 119, 1853
X_RANGE = [-90, 1890]
INSET_L = 888
FONT = "Liberation Serif"
BLUE = "#2447ff"
RED = "#ff0000"
GREY = "#8a8a8a"


def fx(px):
    return px / W


def fy(py):
    return 1 - py / H


def ref(k, letter):
    return letter if k == 1 else f"{letter}{k}"


fig = go.Figure()
layout = dict(width=W, height=H, margin=dict(l=0, r=0, t=0, b=0),
              paper_bgcolor="white", plot_bgcolor="white", showlegend=True,
              font=dict(family=FONT, color="black"))
shapes, annotations = [], []
px_per_km = (AX_R - AX_L) / (X_RANGE[1] - X_RANGE[0])

for i, p in enumerate(panels):
    km, ki = 2 * i + 1, 2 * i + 2
    px_per_m = (p["bottom"] - p["top"]) / (p["yr"][1] - p["yr"][0])
    ins_top = p["top"] + 15
    ins_bot = ins_top + zoom_factor * (zoom_y[1] - zoom_y[0]) * px_per_m
    ins_r = INSET_L + zoom_factor * (zoom_x[1] - zoom_x[0]) * px_per_km

    for k in (km, ki):
        first = (i == 0 and k == km)
        fig.add_trace(go.Scatter(x=dist_km, y=p["true"], mode="lines+markers", name="True",
                                 line=dict(color="black", width=7, shape="spline", smoothing=0.6),
                                 marker=dict(symbol="square", size=7, color="black"),
                                 xaxis=ref(k, "x"), yaxis=ref(k, "y"), showlegend=first))
        fig.add_trace(go.Scatter(x=dist_km, y=p["l2"], mode="lines", name="l2-norm",
                                 line=dict(color=BLUE, width=5, shape="spline", smoothing=0.6),
                                 xaxis=ref(k, "x"), yaxis=ref(k, "y"), showlegend=first))
        fig.add_trace(go.Scatter(x=dist_km, y=p["l1l2"], mode="lines", name="l1-l2-norm",
                                 line=dict(color=RED, width=5, shape="spline", smoothing=0.6),
                                 xaxis=ref(k, "x"), yaxis=ref(k, "y"), showlegend=first))

    main_x = dict(domain=[fx(AX_L), fx(AX_R)], range=X_RANGE, tickvals=x_ticks,
                  showline=True, mirror=True, linecolor="black", linewidth=2.5,
                  ticks="outside", ticklen=6, tickwidth=2, tickcolor="black",
                  ticklabelstandoff=-8,
                  tickfont=dict(family=FONT, size=30, color="black"),
                  showgrid=False, zeroline=False, automargin=False,
                  anchor=ref(km, "y"))
    main_y = dict(domain=[fy(p["bottom"]), fy(p["top"])], range=p["yr"], tickvals=y_ticks,
                  showline=True, mirror=True, linecolor="black", linewidth=2.5,
                  ticks="outside", ticklen=6, tickwidth=2, tickcolor="black",
                  tickfont=dict(family=FONT, size=30, color="black"),
                  showgrid=False, zeroline=False, automargin=False,
                  anchor=ref(km, "x"))
    ins_x = dict(domain=[fx(INSET_L), fx(ins_r)], range=zoom_x, showticklabels=False,
                 ticks="", showline=True, mirror=True, linecolor="black", linewidth=3,
                 showgrid=False, zeroline=False, anchor=ref(ki, "y"))
    ins_y = dict(domain=[fy(ins_bot), fy(ins_top)], range=zoom_y, showticklabels=False,
                 ticks="", showline=True, mirror=True, linecolor="black", linewidth=3,
                 showgrid=False, zeroline=False, anchor=ref(ki, "x"))
    layout["xaxis" if km == 1 else f"xaxis{km}"] = main_x
    layout["yaxis" if km == 1 else f"yaxis{km}"] = main_y
    layout[f"xaxis{ki}"] = ins_x
    layout[f"yaxis{ki}"] = ins_y

    # zoom rectangle in the main axes
    shapes.append(dict(type="rect", xref=ref(km, "x"), yref=ref(km, "y"),
                       x0=zoom_x[0], x1=zoom_x[1], y0=zoom_y[0], y1=zoom_y[1],
                       line=dict(color=GREY, width=2.5), layer="above"))
    # connectors: rect upper-left -> inset upper-left, rect lower-right -> inset lower-right
    rx0 = AX_L + (zoom_x[0] - X_RANGE[0]) * px_per_km
    rx1 = AX_L + (zoom_x[1] - X_RANGE[0]) * px_per_km
    ry_top = p["bottom"] - (zoom_y[1] - p["yr"][0]) * px_per_m
    ry_bot = p["bottom"] - (zoom_y[0] - p["yr"][0]) * px_per_m
    shapes.append(dict(type="line", xref="paper", yref="paper",
                       x0=fx(rx0), y0=fy(ry_top), x1=fx(INSET_L), y1=fy(ins_top),
                       line=dict(color=GREY, width=2.5)))
    shapes.append(dict(type="line", xref="paper", yref="paper",
                       x0=fx(rx1), y0=fy(ry_bot), x1=fx(ins_r), y1=fy(ins_bot),
                       line=dict(color=GREY, width=2.5)))

    annotations.append(dict(text="distance (km)", xref="paper", yref="paper",
                            x=fx((AX_L + AX_R) / 2), y=fy(p["bottom"] + 64),
                            xanchor="center", yanchor="middle",
                            showarrow=False, font=dict(family=FONT, size=30, color="black")))
    annotations.append(dict(text="thickness (m)", xref="paper", yref="paper", textangle=-90,
                            x=fx(64), y=fy((p["top"] + p["bottom"]) / 2),
                            xanchor="center", yanchor="middle",
                            showarrow=False, font=dict(family=FONT, size=30, color="black")))
    annotations.append(dict(text=p["cap"], xref="paper", yref="paper",
                            x=0.5, y=fy(p["cap_y"]), xanchor="center", yanchor="middle",
                            showarrow=False, font=dict(family=FONT, size=37, color="black")))

layout["shapes"] = shapes
layout["annotations"] = annotations
layout["legend"] = dict(x=fx(130), y=fy(11), xanchor="left", yanchor="top",
                        bgcolor="white", bordercolor="#cccccc", borderwidth=2,
                        itemwidth=48,
                        font=dict(family=FONT, size=22, color="black"))
fig.update_layout(**layout)

# the page's default body margin would shift the figure away from the top-left corner
fig.write_html("out.html", config={"displayModeBar": False},
               post_script="document.body.style.margin = '0px';")
